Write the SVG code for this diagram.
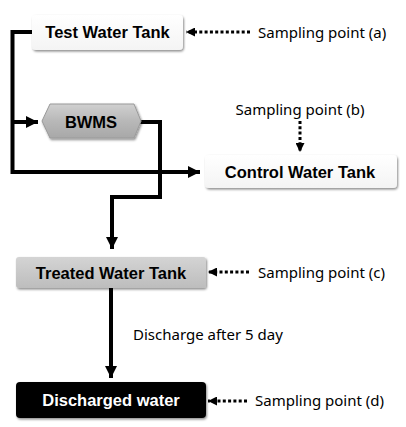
<svg xmlns="http://www.w3.org/2000/svg" width="406" height="427" viewBox="0 0 406 427">
<style>
.lbl{font-family:"Liberation Sans",Arial,sans-serif;font-weight:bold;font-size:16.5px;text-anchor:middle}
.note{font-family:"Noto Sans","DejaVu Sans",sans-serif;font-size:15px;fill:#000}
.flow{fill:none;stroke:#000;stroke-width:4}
.dot{fill:none;stroke:#000;stroke-width:3;stroke-dasharray:3 2.3}
</style>
<defs>
<marker id="ah" viewBox="0 0 10 10" refX="10" refY="5" markerWidth="3" markerHeight="3" orient="auto" markerUnits="strokeWidth"><path d="M0,0 L10,5 L0,10 Z" fill="#000"/></marker>
<marker id="ad" viewBox="0 0 10 10" refX="10" refY="5" markerWidth="3" markerHeight="3" orient="auto" markerUnits="strokeWidth"><path d="M0,0 L10,5 L0,10 Z" fill="#000"/></marker>
<linearGradient id="gw" x1="0" y1="0" x2="0" y2="1"><stop offset="0" stop-color="#fff"/><stop offset="1" stop-color="#f4f4f4"/></linearGradient>
<linearGradient id="gg" x1="0" y1="0" x2="0" y2="1"><stop offset="0" stop-color="#d4d4d4"/><stop offset="1" stop-color="#bdbdbd"/></linearGradient>
<linearGradient id="gh" x1="0" y1="0" x2="0" y2="1"><stop offset="0" stop-color="#d0d0d0"/><stop offset="0.5" stop-color="#b8b8b8"/><stop offset="1" stop-color="#a8a8a8"/></linearGradient>
<filter id="sh" x="-5%" y="-10%" width="112%" height="130%"><feDropShadow dx="1" dy="1.5" stdDeviation="0.8" flood-color="#000" flood-opacity="0.45"/></filter>
</defs>

<g id="connectors">
<path class="flow" d="M32,32 H12.5 V172 H200" marker-end="url(#ah)"/>
<path class="flow" d="M12.5,122 H38" marker-end="url(#ah)"/>
<path class="flow" d="M140,122 H160 V197 H112 V249" marker-end="url(#ah)"/>
<path class="flow" d="M111,288 V378" marker-end="url(#ah)"/>
<path class="dot" d="M250,32 H186" marker-end="url(#ad)"/>
<path class="dot" d="M300,121 V152" marker-end="url(#ad)"/>
<path class="dot" d="M249,272 H208" marker-end="url(#ad)"/>
<path class="dot" d="M247,401 H208" marker-end="url(#ad)"/>
</g>

<g id="test-water-tank">
<rect x="32" y="15" width="151" height="35" rx="4" fill="url(#gw)" filter="url(#sh)"/>
<text class="lbl" x="107.5" y="38">Test Water Tank</text>
</g>

<g id="bwms">
<polygon points="42,121 50,104 134,104 141,121 134,138 50,138" fill="url(#gh)" stroke="#9a9a9a" stroke-width="1" filter="url(#sh)"/>
<text class="lbl" x="91" y="128">BWMS</text>
</g>

<g id="control-water-tank">
<rect x="205" y="155" width="192" height="33" rx="4" fill="url(#gw)" filter="url(#sh)"/>
<text class="lbl" x="300" y="177.5">Control Water Tank</text>
</g>

<g id="treated-water-tank">
<rect x="16" y="257" width="190" height="31" rx="3" fill="url(#gg)" filter="url(#sh)"/>
<text class="lbl" x="111" y="278.5">Treated Water Tank</text>
</g>

<g id="discharged-water">
<rect x="16" y="382" width="190" height="36" rx="4" fill="#000" filter="url(#sh)"/>
<text class="lbl" x="111" y="406" fill="#fff">Discharged water</text>
</g>

<g id="notes">
<text class="note" x="258" y="38">Sampling point (a)</text>
<text class="note" x="300" y="115" text-anchor="middle">Sampling point (b)</text>
<text class="note" x="258" y="278">Sampling point (c)</text>
<text class="note" x="133" y="340">Discharge after 5 day</text>
<text class="note" x="255" y="406">Sampling point (d)</text>
</g>
</svg>
